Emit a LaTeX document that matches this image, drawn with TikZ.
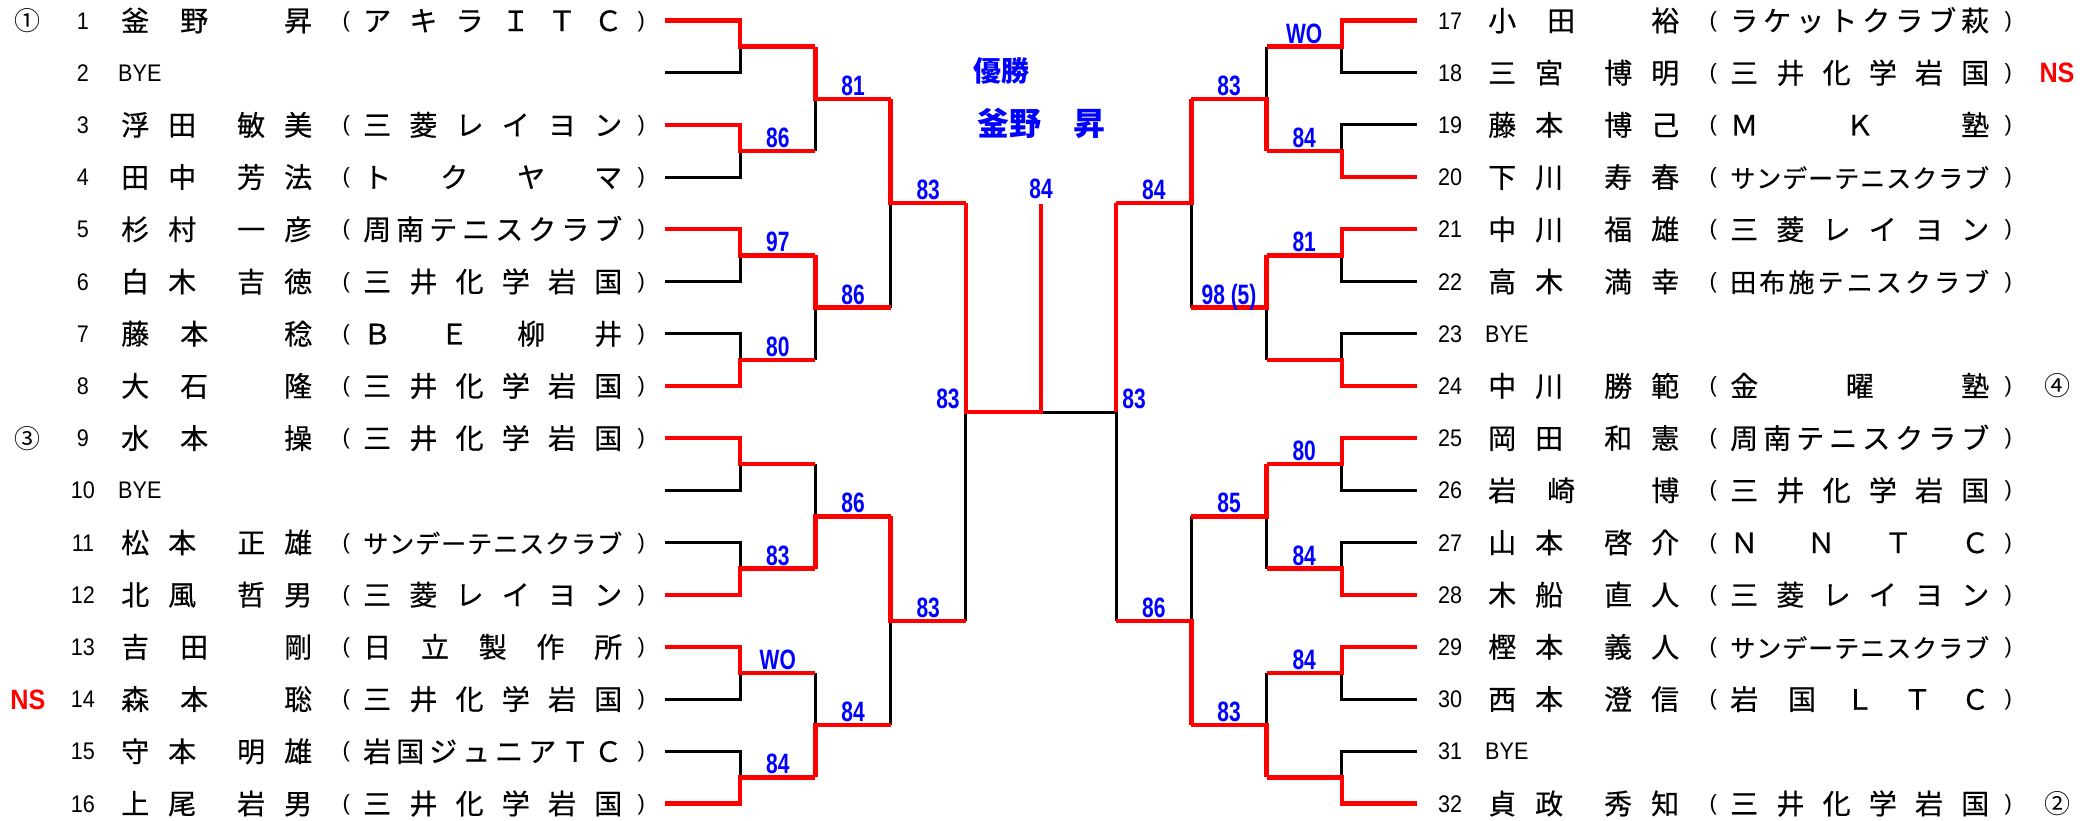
\documentclass[tikz,border=0pt]{standalone}
\usepackage{fontspec}
\setmainfont{Liberation Sans}
\newfontfamily\jp[FakeBold=0.5]{Noto Sans CJK JP}
\newfontfamily\jpt{Noto Sans CJK JP}
\newfontfamily\numf[FakeStretch=0.9]{Liberation Sans}
\newfontfamily\labf[FakeStretch=0.75]{Liberation Sans}
\usetikzlibrary{calc}
\definecolor{wred}{RGB}{255,0,0}
\definecolor{sblue}{RGB}{0,0,255}
\pgfdeclarelayer{bg}
\pgfsetlayers{bg,main}

\def\gobbleone#1{}
\def\dist#1{\distA#1\relax}
\def\distA#1#2{#1\ifx\relax#2\expandafter\gobbleone\else\hfil\expandafter\distA\fi#2}

\newcommand\nf[4]{#1\hspace{19pt}#2\hspace{41pt}#3\hspace{19pt}#4}
\newcommand\nt[3]{#1\hspace{31pt}#2\hspace{76pt}#3}
\newcommand\club[2][28]{{\rmfamily\fontsize{22}{22}\selectfont\raisebox{4pt}{(}}\hspace{13.4pt}\makebox[259pt][s]{\fontsize{#1}{#1}\selectfont\dist{#2}}\hspace{15.3pt}{\rmfamily\fontsize{22}{22}\selectfont\raisebox{4pt}{)}}}

\tikzset{
  win/.style={draw=wred, line width=4.4pt},
  lose/.style={draw=black, line width=3pt},
  numtxt/.style={anchor=base, inner sep=0pt, font=\numf\fontsize{24}{24}\selectfont},
  byetxt/.style={anchor=base west, inner sep=0pt, font=\numf\fontsize{24}{24}\selectfont},
  nametxt/.style={anchor=base west, inner sep=0pt, font=\jp\fontsize{28}{28}\selectfont},
  clubtxt/.style={anchor=base west, inner sep=0pt, font=\jp\fontsize{28}{28}\selectfont},
  score/.style={anchor=base, inner sep=0pt, yshift=3.5pt, text=sblue, font=\labf\bfseries\fontsize{28}{28}\selectfont},
  nstxt/.style={anchor=base, inner sep=0pt, text=wred, font=\numf\bfseries\fontsize{28}{28}\selectfont},
  circ/.style={anchor=base, inner sep=0pt, font=\jpt\fontsize{26}{26}\selectfont},
  titletxt/.style={anchor=base west, inner sep=0pt, text=sblue, font=\jpt\bfseries\fontsize{28}{28}\selectfont},
}

\newcommand\pl[5]{%
  \node[numtxt] (num#1) at ({83+#2},{20.5+#3*52.2+8.6}) {#1};
  \node[nametxt] (name#1) at ({121+#2},{20.5+#3*52.2+10.6}) {#4};
  \node[clubtxt] (club#1) at ({342.3+#2},{20.5+#3*52.2+10.6}) {#5};
}
\newcommand\bye[3]{%
  \node[numtxt] (num#1) at ({83+#2},{20.5+#3*52.2+8.6}) {#1};
  \node[byetxt] (name#1) at ({118+#2},{20.5+#3*52.2+8.6}) {BYE};
}
% #1 top, #2 bottom, #3 junction, #4 out, #5 winner, #6 path op
\newcommand\game[6]{%
  \ifnum#5=1
    \begin{pgfonlayer}{bg}\draw[lose] (#2) #6 (#3);\end{pgfonlayer}
    \draw[win] (#1) #6 (#3) -- (#4);
  \else
    \begin{pgfonlayer}{bg}\draw[lose] (#1) #6 (#3);\end{pgfonlayer}
    \draw[win] (#2) #6 (#3) -- (#4);
  \fi
}

\begin{document}
\begin{tikzpicture}[x=1pt,y=-1pt]
\useasboundingbox (0,0) rectangle (2097,821);

% ---------- coordinates ----------
\foreach \i in {1,...,16} { \coordinate (p\i) at (665,{20.5+(\i-1)*52.2}); }
\foreach \i in {17,...,32} { \coordinate (p\i) at (1417,{20.5+(\i-17)*52.2}); }
\foreach \k in {1,...,8} {
  \coordinate (ja\k) at (740.2,{46.6+(\k-1)*104.4});
  \coordinate (a\k) at (815.4,{46.6+(\k-1)*104.4});
}
\foreach \k in {9,...,16} {
  \coordinate (ja\k) at (1341.8,{46.6+(\k-9)*104.4});
  \coordinate (a\k) at (1266.6,{46.6+(\k-9)*104.4});
}
\foreach \k in {1,...,4} {
  \coordinate (jb\k) at (815.4,{98.8+(\k-1)*208.8});
  \coordinate (b\k) at (890.6,{98.8+(\k-1)*208.8});
}
\foreach \k in {5,...,8} {
  \coordinate (jb\k) at (1266.6,{98.8+(\k-5)*208.8});
  \coordinate (b\k) at (1191.4,{98.8+(\k-5)*208.8});
}
\coordinate (jc1) at (890.6,203.2);  \coordinate (c1) at (965.8,203.2);
\coordinate (jc2) at (890.6,620.8);  \coordinate (c2) at (965.8,620.8);
\coordinate (jc3) at (1191.4,203.2); \coordinate (c3) at (1116.2,203.2);
\coordinate (jc4) at (1191.4,620.8); \coordinate (c4) at (1116.2,620.8);
\coordinate (jd1) at (965.8,412);
\coordinate (jd2) at (1116.2,412);
\coordinate (fin) at (1041,412);
\coordinate (champ) at (1041,204);

% ---------- bracket: left ----------
\game{p1}{p2}{ja1}{a1}{1}{-|}
\game{p3}{p4}{ja2}{a2}{1}{-|}
\game{p5}{p6}{ja3}{a3}{1}{-|}
\game{p7}{p8}{ja4}{a4}{2}{-|}
\game{p9}{p10}{ja5}{a5}{1}{-|}
\game{p11}{p12}{ja6}{a6}{2}{-|}
\game{p13}{p14}{ja7}{a7}{1}{-|}
\game{p15}{p16}{ja8}{a8}{2}{-|}
\game{a1}{a2}{jb1}{b1}{1}{--}
\game{a3}{a4}{jb2}{b2}{1}{--}
\game{a5}{a6}{jb3}{b3}{2}{--}
\game{a7}{a8}{jb4}{b4}{2}{--}
\game{b1}{b2}{jc1}{c1}{1}{--}
\game{b3}{b4}{jc2}{c2}{1}{--}
% ---------- bracket: right ----------
\game{p17}{p18}{ja9}{a9}{1}{-|}
\game{p19}{p20}{ja10}{a10}{2}{-|}
\game{p21}{p22}{ja11}{a11}{1}{-|}
\game{p23}{p24}{ja12}{a12}{2}{-|}
\game{p25}{p26}{ja13}{a13}{1}{-|}
\game{p27}{p28}{ja14}{a14}{2}{-|}
\game{p29}{p30}{ja15}{a15}{1}{-|}
\game{p31}{p32}{ja16}{a16}{2}{-|}
\game{a9}{a10}{jb5}{b5}{2}{--}
\game{a11}{a12}{jb6}{b6}{1}{--}
\game{a13}{a14}{jb7}{b7}{1}{--}
\game{a15}{a16}{jb8}{b8}{2}{--}
\game{b5}{b6}{jc3}{c3}{1}{--}
\game{b7}{b8}{jc4}{c4}{2}{--}
% ---------- final ----------
\begin{pgfonlayer}{bg}
  \draw[lose] (c2) -- (jd1);
  \draw[lose] (c4) -- (jd2) -- (fin);
\end{pgfonlayer}
\draw[win] (c1) -- (jd1) -- (fin) -- (champ);
\draw[win] (c3) -- (jd2);

% ---------- scores ----------
\node[score] (s-a2) at ($(ja2)!0.5!(a2)$) {86};
\node[score] (s-a3) at ($(ja3)!0.5!(a3)$) {97};
\node[score] (s-a4) at ($(ja4)!0.5!(a4)$) {80};
\node[score] (s-a6) at ($(ja6)!0.5!(a6)$) {83};
\node[score] (s-a7) at ($(ja7)!0.5!(a7)$) {WO};
\node[score] (s-a8) at ($(ja8)!0.5!(a8)$) {84};
\node[score] (s-b1) at ($(jb1)!0.5!(b1)$) {81};
\node[score] (s-b2) at ($(jb2)!0.5!(b2)$) {86};
\node[score] (s-b3) at ($(jb3)!0.5!(b3)$) {86};
\node[score] (s-b4) at ($(jb4)!0.5!(b4)$) {84};
\node[score] (s-c1) at ($(jc1)!0.5!(c1)$) {83};
\node[score] (s-c2) at ($(jc2)!0.5!(c2)$) {83};
\node[score] (s-a9) at ($(ja9)!0.5!(a9)$) {WO};
\node[score] (s-a10) at ($(ja10)!0.5!(a10)$) {84};
\node[score] (s-a11) at ($(ja11)!0.5!(a11)$) {81};
\node[score] (s-a13) at ($(ja13)!0.5!(a13)$) {80};
\node[score] (s-a14) at ($(ja14)!0.5!(a14)$) {84};
\node[score] (s-a15) at ($(ja15)!0.5!(a15)$) {84};
\node[score] (s-b5) at ($(jb5)!0.5!(b5)$) {83};
\node[score] (s-b6) at ($(jb6)!0.5!(b6)$) {98 (5)};
\node[score] (s-b7) at ($(jb7)!0.5!(b7)$) {85};
\node[score] (s-b8) at ($(jb8)!0.5!(b8)$) {83};
\node[score] (s-c3) at ($(jc3)!0.5!(c3)$) {84};
\node[score] (s-c4) at ($(jc4)!0.5!(c4)$) {86};
\node[score, anchor=base east, xshift=-6pt] (s-fl) at (jd1) {83};
\node[score, anchor=base west, xshift=6pt] (s-fr) at (jd2) {83};
\node[score, yshift=2pt] (s-ch) at (champ) {84};

% ---------- champion ----------
\node[titletxt] (yusho) at (973,81.6) {優勝};
\node[titletxt, font=\jpt\bfseries\fontsize{32}{32}\selectfont] (winner) at (977,136) {釜野　昇};

% ---------- players: left ----------
\pl{1}{0}{0}{\nt{釜}{野}{昇}}{\club{アキラＩＴＣ}}
\bye{2}{0}{1}
\pl{3}{0}{2}{\nf{浮}{田}{敏}{美}}{\club{三菱レイヨン}}
\pl{4}{0}{3}{\nf{田}{中}{芳}{法}}{\club{トクヤマ}}
\pl{5}{0}{4}{\nf{杉}{村}{一}{彦}}{\club{周南テニスクラブ}}
\pl{6}{0}{5}{\nf{白}{木}{吉}{徳}}{\club{三井化学岩国}}
\pl{7}{0}{6}{\nt{藤}{本}{稔}}{\club{ＢＥ柳井}}
\pl{8}{0}{7}{\nt{大}{石}{隆}}{\club{三井化学岩国}}
\pl{9}{0}{8}{\nt{水}{本}{操}}{\club{三井化学岩国}}
\bye{10}{0}{9}
\pl{11}{0}{10}{\nf{松}{本}{正}{雄}}{\club[25]{サンデーテニスクラブ}}
\pl{12}{0}{11}{\nf{北}{風}{哲}{男}}{\club{三菱レイヨン}}
\pl{13}{0}{12}{\nt{吉}{田}{剛}}{\club{日立製作所}}
\pl{14}{0}{13}{\nt{森}{本}{聡}}{\club{三井化学岩国}}
\pl{15}{0}{14}{\nf{守}{本}{明}{雄}}{\club{岩国ジュニアＴＣ}}
\pl{16}{0}{15}{\nf{上}{尾}{岩}{男}}{\club{三井化学岩国}}
% ---------- players: right ----------
\pl{17}{1367}{0}{\nt{小}{田}{裕}}{\club{ラケットクラブ萩}}
\pl{18}{1367}{1}{\nf{三}{宮}{博}{明}}{\club{三井化学岩国}}
\pl{19}{1367}{2}{\nf{藤}{本}{博}{己}}{\club{ＭＫ塾}}
\pl{20}{1367}{3}{\nf{下}{川}{寿}{春}}{\club[25]{サンデーテニスクラブ}}
\pl{21}{1367}{4}{\nf{中}{川}{福}{雄}}{\club{三菱レイヨン}}
\pl{22}{1367}{5}{\nf{高}{木}{満}{幸}}{\club[26]{田布施テニスクラブ}}
\bye{23}{1367}{6}
\pl{24}{1367}{7}{\nf{中}{川}{勝}{範}}{\club{金曜塾}}
\pl{25}{1367}{8}{\nf{岡}{田}{和}{憲}}{\club{周南テニスクラブ}}
\pl{26}{1367}{9}{\nt{岩}{崎}{博}}{\club{三井化学岩国}}
\pl{27}{1367}{10}{\nf{山}{本}{啓}{介}}{\club{ＮＮＴＣ}}
\pl{28}{1367}{11}{\nf{木}{船}{直}{人}}{\club{三菱レイヨン}}
\pl{29}{1367}{12}{\nf{樫}{本}{義}{人}}{\club[25]{サンデーテニスクラブ}}
\pl{30}{1367}{13}{\nf{西}{本}{澄}{信}}{\club{岩国ＬＴＣ}}
\bye{31}{1367}{14}
\pl{32}{1367}{15}{\nf{貞}{政}{秀}{知}}{\club{三井化学岩国}}

% ---------- marks ----------
\node[circ] (mk1) at (27.5,{20.5+9.9}) {①};
\node[circ] (mk3) at (27.5,{20.5+8*52.2+9.9}) {③};
\node[circ] (mk4) at (2057,{20.5+7*52.2+9.9}) {④};
\node[circ] (mk2) at (2057,{20.5+15*52.2+9.9}) {②};
\node[nstxt] (ns14) at (28,{20.5+13*52.2+10}) {NS};
\node[nstxt] (ns18) at (2057,{20.5+52.2+10}) {NS};
\end{tikzpicture}
\end{document}
